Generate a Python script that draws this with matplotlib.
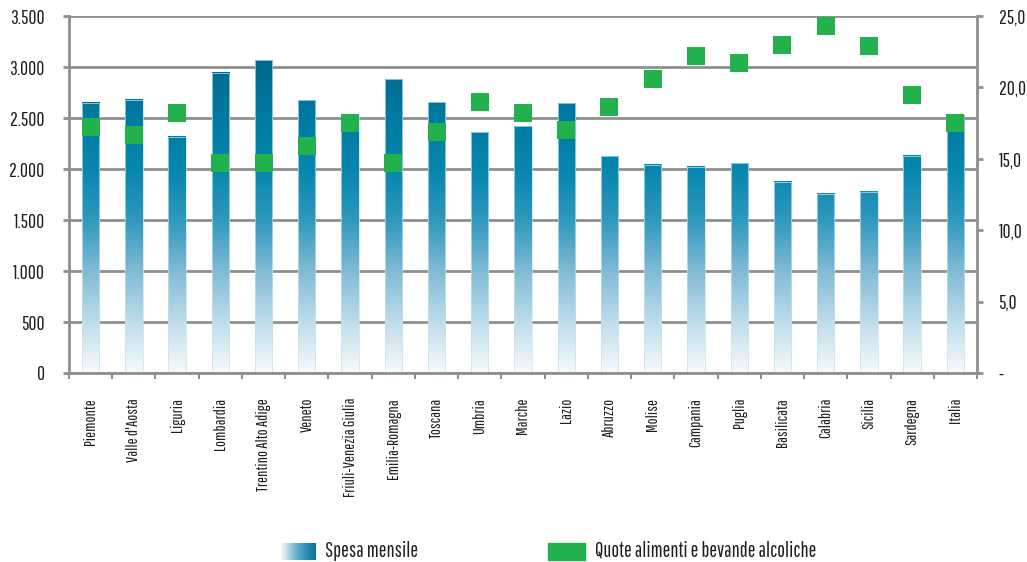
import numpy as np
import matplotlib
matplotlib.use("Agg")
import matplotlib.pyplot as plt
from matplotlib.colors import LinearSegmentedColormap
from matplotlib.patches import Rectangle
from matplotlib.ticker import FuncFormatter

plt.rcParams['font.family'] = ['Pathway Gothic One', 'DejaVu Sans']

regioni = ['Piemonte', "Valle d'Aosta", 'Liguria', 'Lombardia', 'Trentino Alto Adige',
           'Veneto', 'Friuli-Venezia Giulia', 'Emilia-Romagna', 'Toscana', 'Umbria',
           'Marche', 'Lazio', 'Abruzzo', 'Molise', 'Campania', 'Puglia', 'Basilicata',
           'Calabria', 'Sicilia', 'Sardegna', 'Italia']
spesa = [2650, 2678, 2317, 2944, 3066, 2673, 2526, 2879, 2654, 2360,
         2418, 2647, 2127, 2042, 2023, 2056, 1876, 1755, 1775, 2130, 2526]
quota_alimenti = [17.2, 16.7, 18.2, 14.7, 14.7, 15.9, 17.5, 14.7, 16.9, 19.0,
                  18.2, 17.0, 18.6, 20.6, 22.2, 21.7, 23.0, 24.3, 22.9, 19.5, 17.5]

left_ticks = np.arange(0, 3501, 500)
right_ticks = np.arange(0, 25.1, 5)

grey = '#8e9090'
green = '#23b14d'
text_col = '#1e1e1e'
blues = LinearSegmentedColormap.from_list('spesa', [
    (0.0, '#f6fafc'), (0.143, '#bddcea'), (0.286, '#80bad5'),
    (0.429, '#2f98bd'), (0.571, '#0686ae'), (0.714, '#007aa2'),
    (0.857, '#006a90'), (1.0, '#00608a')])

fig = plt.figure(figsize=(10.27, 5.62), dpi=100)
ax = fig.add_axes([0.0672, 0.3363, 0.8841, 0.6352])

# bars: vertical gradient keyed to the value scale, so every bar shares the same shading
x = np.arange(len(regioni))
w = 0.4
for xi, v in zip(x, spesa):
    grad = np.linspace(0, v, 256).reshape(-1, 1)
    ax.imshow(grad, extent=[xi - w / 2, xi + w / 2, 0, v], origin='lower',
              aspect='auto', cmap=blues, vmin=0, vmax=3500, zorder=2,
              interpolation='bilinear')
    ax.add_patch(Rectangle((xi - w / 2, 0), w, v, fill=False,
                           edgecolor='#c4e2ec', linewidth=0.5, zorder=2.1))

ax.set_xlim(-0.5, len(regioni) - 0.5)
ax.set_ylim(0, 3500)
ax.set_yticks(left_ticks)
ax.yaxis.set_major_formatter(FuncFormatter(lambda v, p: f'{int(v):,}'.replace(',', '.')))
ax.grid(axis='y', color=grey, linewidth=2, zorder=0)
ax.set_axisbelow(True)

ax.set_xticks(x)
ax.set_xticklabels(regioni, rotation=90, va='top', ha='center', fontsize=11.5,
                   color=text_col)
ax.set_xticks(np.arange(-0.5, len(regioni)), minor=True)
ax.tick_params(axis='x', which='major', length=0, pad=18)
ax.tick_params(axis='x', which='minor', length=4, width=1.5, color=grey)
ax.tick_params(axis='y', length=4.5, width=2, color=grey, pad=13, labelsize=14,
               labelcolor=text_col)

for side in ['top', 'right']:
    ax.spines[side].set_visible(False)
for side in ['left', 'bottom']:
    ax.spines[side].set_color(grey)
    ax.spines[side].set_linewidth(2)

ax2 = ax.twinx()
ax2.plot(x, quota_alimenti, linestyle='none', marker='s', markersize=12.3,
         color=green, markeredgewidth=0, zorder=3)
ax2.set_ylim(0, 25)
ax2.set_yticks(right_ticks)
ax2.yaxis.set_major_formatter(FuncFormatter(
    lambda v, p: '-' if v == 0 else f'{v:.1f}'.replace('.', ',')))
ax2.tick_params(axis='y', length=4.5, width=2, color=grey, pad=11, labelsize=14,
                labelcolor=text_col)
for side in ['top', 'left', 'bottom']:
    ax2.spines[side].set_visible(False)
ax2.spines['right'].set_color(grey)
ax2.spines['right'].set_linewidth(2)

# legend drawn by hand: gradient swatch and green swatch
lax = fig.add_axes([280 / 1027, 1 - 560 / 562, 35 / 1027, 17 / 562])
lax.imshow(np.linspace(0, 1, 128).reshape(1, -1), aspect='auto',
           cmap=LinearSegmentedColormap.from_list('leg', ['#ffffff', '#5aa8c8', '#00739a']))
lax.axis('off')
fig.text(325 / 1027, 1 - 551 / 562, 'Spesa mensile', fontsize=14.8,
         va='center', ha='left', color=text_col)
fig.patches.append(Rectangle((548 / 1027, 1 - 560 / 562), 37 / 1027, 17 / 562,
                             transform=fig.transFigure, color=green))
fig.text(595 / 1027, 1 - 551 / 562, 'Quote alimenti e bevande alcoliche', fontsize=14.8,
         va='center', ha='left', color=text_col)

fig.savefig('out.png', dpi=100)
